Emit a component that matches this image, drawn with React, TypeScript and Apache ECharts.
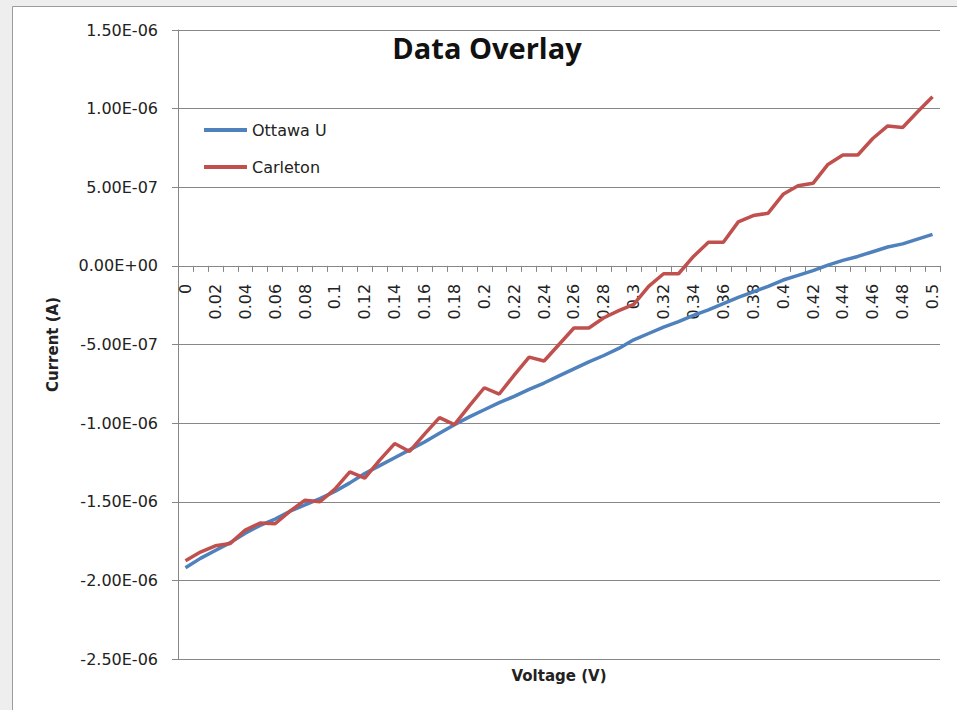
import React, { useEffect, useRef } from "react";
import * as echarts from "echarts";

const voltageLabels = [
  "0", "0.01", "0.02", "0.03", "0.04", "0.05", "0.06", "0.07", "0.08", "0.09",
  "0.1", "0.11", "0.12", "0.13", "0.14", "0.15", "0.16", "0.17", "0.18", "0.19",
  "0.2", "0.21", "0.22", "0.23", "0.24", "0.25", "0.26", "0.27", "0.28", "0.29",
  "0.3", "0.31", "0.32", "0.33", "0.34", "0.35", "0.36", "0.37", "0.38", "0.39",
  "0.4", "0.41", "0.42", "0.43", "0.44", "0.45", "0.46", "0.47", "0.48", "0.49",
  "0.5",
];

const ottawaU = [
  -1.92e-6, -1.86e-6, -1.81e-6, -1.76e-6, -1.7e-6, -1.65e-6, -1.61e-6, -1.56e-6, -1.52e-6, -1.48e-6,
  -1.435e-6, -1.38e-6, -1.32e-6, -1.27e-6, -1.22e-6, -1.17e-6, -1.12e-6, -1.065e-6, -1.01e-6, -0.96e-6,
  -0.915e-6, -0.87e-6, -0.83e-6, -0.785e-6, -0.745e-6, -0.7e-6, -0.655e-6, -0.61e-6, -0.57e-6, -0.525e-6,
  -0.47e-6, -0.43e-6, -0.39e-6, -0.355e-6, -0.315e-6, -0.28e-6, -0.24e-6, -0.2e-6, -0.165e-6, -0.13e-6,
  -0.09e-6, -0.06e-6, -0.03e-6, 0.005e-6, 0.035e-6, 0.06e-6, 0.09e-6, 0.12e-6, 0.14e-6, 0.17e-6,
  0.2e-6,
];

const carleton = [
  -1.875e-6, -1.82e-6, -1.78e-6, -1.765e-6, -1.68e-6, -1.635e-6, -1.64e-6, -1.56e-6, -1.49e-6, -1.5e-6,
  -1.42e-6, -1.31e-6, -1.35e-6, -1.235e-6, -1.13e-6, -1.18e-6, -1.07e-6, -0.965e-6, -1.01e-6, -0.89e-6,
  -0.775e-6, -0.815e-6, -0.695e-6, -0.58e-6, -0.605e-6, -0.5e-6, -0.395e-6, -0.395e-6, -0.33e-6, -0.285e-6,
  -0.245e-6, -0.13e-6, -0.05e-6, -0.05e-6, 0.06e-6, 0.15e-6, 0.15e-6, 0.28e-6, 0.32e-6, 0.335e-6,
  0.455e-6, 0.51e-6, 0.525e-6, 0.645e-6, 0.705e-6, 0.705e-6, 0.81e-6, 0.89e-6, 0.88e-6, 0.98e-6,
  1.075e-6,
];

const seriesNames = ["Ottawa U", "Carleton"];
const seriesColors = ["#4F81BD", "#C0504D"];
const yMin = -2.5e-6;
const yMax = 1.5e-6;
const yStep = 5e-7;

const FONT = '"DejaVu Sans", Verdana, sans-serif';

function sci(v: number): string {
  const [m, e] = v.toExponential(2).split("e");
  const sign = e[0] === "-" ? "-" : "+";
  const digits = e.replace(/[+-]/, "").padStart(2, "0");
  return `${m}E${sign}${digits}`;
}

export default function App() {
  const ref = useRef<HTMLDivElement>(null);

  useEffect(() => {
    if (!ref.current) return;
    const chart = echarts.init(ref.current, undefined, { renderer: "svg" });
    const axisGray = "#878787";
    chart.setOption({
      animation: false,
      backgroundColor: "#eeeeee",
      graphic: [
        {
          type: "rect",
          z: -10,
          shape: { x: 12.5, y: 6.5, width: 1000, height: 1000 },
          style: { fill: "#ffffff", stroke: "#9c9c9c", lineWidth: 1 },
        },
        {
          type: "text",
          x: 487,
          y: 47,
          style: {
            text: "Data Overlay",
            font: 'bold 29px "Open Sans", sans-serif',
            align: "center",
            verticalAlign: "middle",
            fill: "#111111",
          },
        },
      ],
      legend: {
        data: seriesNames,
        orient: "vertical",
        left: 204,
        top: 122,
        padding: 0,
        itemGap: 21,
        itemWidth: 43,
        itemHeight: 4,
        icon: "rect",
        textStyle: { fontFamily: FONT, fontSize: 16, color: "#222" },
      },
      grid: {
        left: 178,
        right: 17,
        top: 30,
        bottom: 51,
        containLabel: false,
        outerBoundsMode: "none",
      },
      xAxis: {
        type: "category",
        data: voltageLabels,
        boundaryGap: true,
        position: "bottom",
        offset: 0,
        name: "Voltage (V)",
        nameLocation: "middle",
        nameGap: 403,
        nameTextStyle: { fontFamily: FONT, fontSize: 15, fontWeight: "bold", color: "#222" },
        axisLine: { onZero: false, lineStyle: { color: axisGray, width: 1 } },
        axisTick: { show: true, interval: 0, length: 6, lineStyle: { color: axisGray } },
        axisLabel: {
          interval: 1,
          rotate: 90,
          margin: 18,
          fontFamily: FONT,
          fontSize: 16,
          color: "#222",
        },
        splitLine: { show: false },
      },
      yAxis: {
        type: "value",
        min: yMin,
        max: yMax,
        interval: yStep,
        name: "Current (A)",
        nameLocation: "middle",
        nameRotate: 90,
        nameGap: 118,
        nameTextStyle: { fontFamily: FONT, fontSize: 15, fontWeight: "bold", color: "#222" },
        axisLine: { show: true, onZero: false, lineStyle: { color: axisGray, width: 1 } },
        axisTick: { show: true, length: 6, lineStyle: { color: axisGray } },
        axisLabel: {
          margin: 20,
          fontFamily: FONT,
          fontSize: 16,
          color: "#222",
          formatter: (v: number) => sci(v),
        },
        splitLine: { show: true, lineStyle: { color: axisGray, width: 1 } },
      },
      series: [
        {
          name: seriesNames[0],
          type: "line",
          data: ottawaU,
          showSymbol: false,
          symbol: "none",
          itemStyle: { color: seriesColors[0] },
          lineStyle: { color: seriesColors[0], width: 3.5 },
          z: 3,
        },
        {
          name: seriesNames[1],
          type: "line",
          data: carleton,
          showSymbol: false,
          symbol: "none",
          itemStyle: { color: seriesColors[1] },
          lineStyle: { color: seriesColors[1], width: 3.5 },
          z: 4,
        },
      ],
    });
    // Place the category axis on the value axis's zero line (Excel style).
    const yZero = chart.convertToPixel({ yAxisIndex: 0 }, 0) as number;
    const yBottom = chart.convertToPixel({ yAxisIndex: 0 }, yMin) as number;
    if (isFinite(yZero) && isFinite(yBottom)) {
      chart.setOption({ xAxis: { offset: yZero - yBottom } });
    }
    return () => chart.dispose();
  }, []);

  return (
    <div
      ref={ref}
      style={{ position: "absolute", left: 0, top: 0, width: 957, height: 710 }}
    />
  );
}
